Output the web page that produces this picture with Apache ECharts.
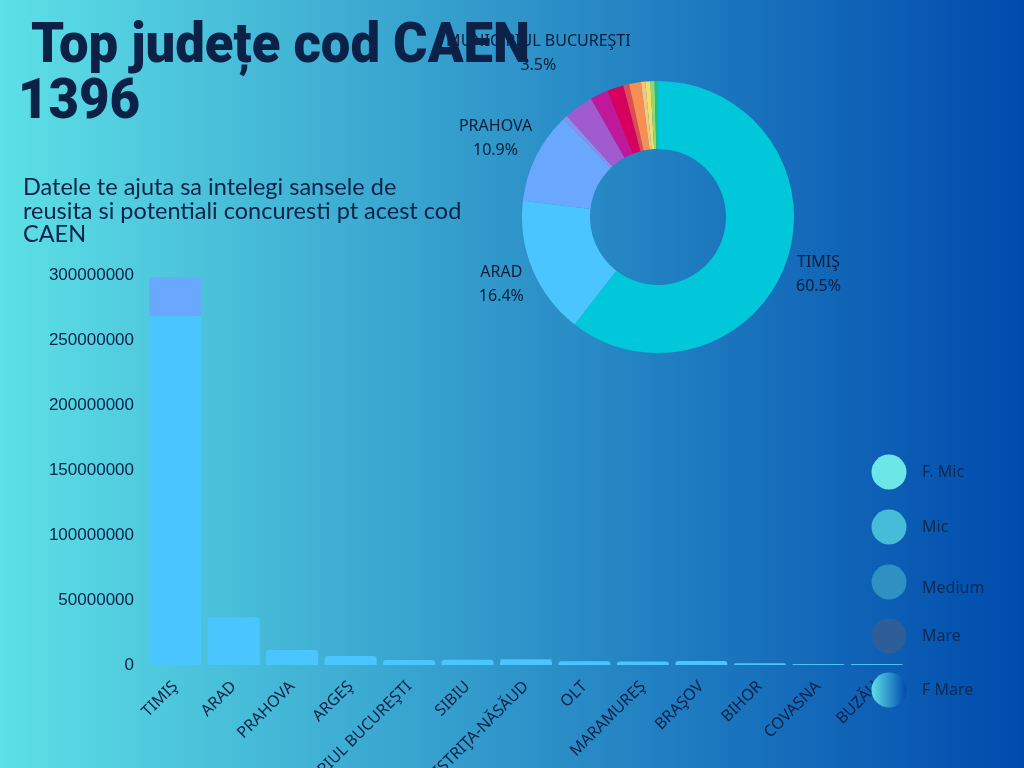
<!DOCTYPE html>
<html><head><meta charset="utf-8">
<script src="https://cdn.jsdelivr.net/npm/echarts@6/dist/echarts.min.js"></script>
<style>html,body{margin:0;padding:0;background:#2a8ac6}#c{width:1024px;height:768px;}</style>
</head><body><div id="c"></div>
<script>
// ---- data ----
const categories = ['TIMIŞ','ARAD','PRAHOVA','ARGEŞ','MUNICIPIUL BUCUREŞTI','SIBIU','BISTRIŢA-NĂSĂUD','OLT','MARAMUREŞ','BRAŞOV','BIHOR','COVASNA','BUZĂU'];
const barMain  = [268700000, 36700000, 11500000, 6900000, 3800000, 4100000, 4100000, 2800000, 2600000, 3100000, 1300000, 800000, 700000];
const barExtra = [29500000, 0, 0, 0, 0, 0, 500000, 0, 0, 0, 0, 0, 0];
const pieShares = [60.5, 16.4, 10.9, 0.5, 3.5, 2.1, 2.0, 0.7, 1.4, 0.5, 0.6, 0.5, 0.4];
const pieColors = ['#00c8da','#4bc5fe','#6aa8ff','#8b90ea','#a05bd0','#c0189b','#d7005d','#e14b52','#f78f52','#f6c57e','#efe06c','#95d872','#26be78'];
const yMin = 0, yMax = 300000000, yStep = 50000000;
const legendNames = ['F. Mic','Mic','Medium','Mare','F Mare'];

// ---- layout constants ----
const PIE_CX = 658, PIE_CY = 217, PIE_R = 136, PIE_R0 = 68;
const ink = '#0b2147';

const pieTotal = pieShares.reduce((a, b) => a + b, 0);
const pieCum = []; { let acc = 0; pieShares.forEach(v => { pieCum.push(acc); acc += v; }); }

const chart = echarts.init(document.getElementById('c'), null, {renderer: 'canvas'});

const legendFills = [
  '#6ce6e6', '#45bcd8', '#2f90c2', '#2d5e98',
  new echarts.graphic.LinearGradient(0, 0, 1, 0, [{offset: 0, color: '#5de0e6'}, {offset: 1, color: '#004aad'}])
];
const legendY = [472, 527, 582, 636, 690];
const legendGraphics = [];
legendNames.forEach((n, i) => {
  legendGraphics.push({type: 'circle', shape: {cx: 889, cy: legendY[i], r: 17.5}, style: {fill: legendFills[i]}, z: 100, silent: true});
  legendGraphics.push({type: 'text', x: 922, y: legendY[i] + (i === 2 ? 6 : 0), style: {text: n, fill: '#0e2a52', font: '16px "Noto Sans"', textVerticalAlign: 'middle'}, z: 100, silent: true});
});

chart.setOption({
  animation: false,
  backgroundColor: new echarts.graphic.LinearGradient(0, 0, 1, 0, [{offset: 0, color: '#5de0e6'}, {offset: 1, color: '#004aad'}]),
  graphic: [
    {type: 'text', x: 18, y: 20, scaleX: 0.94, z: 50, silent: true,
     style: {text: ' Top județe cod CAEN\n1396', fill: ink, font: '900 56px Roboto', lineHeight: 56}},
    {type: 'text', x: 23, y: 176, z: 50, silent: true,
     style: {text: 'Datele te ajuta sa intelegi sansele de\nreusita si potentiali concuresti pt acest cod\nCAEN', fill: ink, font: '23.5px Lato', lineHeight: 23.5}}
  ].concat(legendGraphics),
  grid: {left: 146, right: 118, top: 275, bottom: 103, outerBoundsMode: 'none', containLabel: false},
  xAxis: {
    type: 'category', data: categories,
    axisLine: {show: false}, axisTick: {show: false},
    axisLabel: {interval: 0, rotate: 45, color: ink, fontSize: 16, fontFamily: 'Noto Sans', margin: 19}
  },
  yAxis: {
    type: 'value', min: yMin, max: yMax, interval: yStep,
    splitLine: {show: false}, axisLine: {show: false}, axisTick: {show: false},
    axisLabel: {color: ink, fontSize: 17, fontFamily: 'Liberation Sans', margin: 12, formatter: v => String(v)}
  },
  series: [
    {type: 'bar', stack: 's', data: barMain, barCategoryGap: '11%', itemStyle: {color: '#4bc5fe', borderRadius: [3, 3, 0, 0]}, silent: true},
    {type: 'bar', stack: 's', data: barExtra, itemStyle: {color: '#6aa8ff', borderRadius: [3, 3, 0, 0]}, silent: true},
    {
      type: 'pie', center: [PIE_CX, PIE_CY], radius: [PIE_R0, PIE_R], startAngle: 90, clockwise: true,
      percentPrecision: 1, minShowLabelAngle: 8, silent: true,
      data: categories.map((c, i) => ({name: c, value: pieShares[i], itemStyle: {color: pieColors[i]}})),
      label: {show: true, position: 'outside', formatter: '{b}\n{d}%', color: '#0d1d38', fontSize: 16, fontFamily: 'Noto Sans', lineHeight: 24},
      labelLine: {show: false},
      labelLayout: function (p) {
        const i = p.dataIndex;
        const a = (pieCum[i] + pieShares[i] / 2) / pieTotal * 2 * Math.PI;
        const dx = Math.sin(a), dy = -Math.cos(a);
        const w = p.labelRect.width, h = p.labelRect.height;
        const ext = Math.sqrt(Math.pow(dx * w / 2, 2) + Math.pow(dy * h / 2, 2));
        const r = 147 + ext;
        return {x: PIE_CX + dx * r, y: PIE_CY + dy * r + 2, align: 'center', verticalAlign: 'middle'};
      }
    }
  ]
});
</script>
</body></html>
